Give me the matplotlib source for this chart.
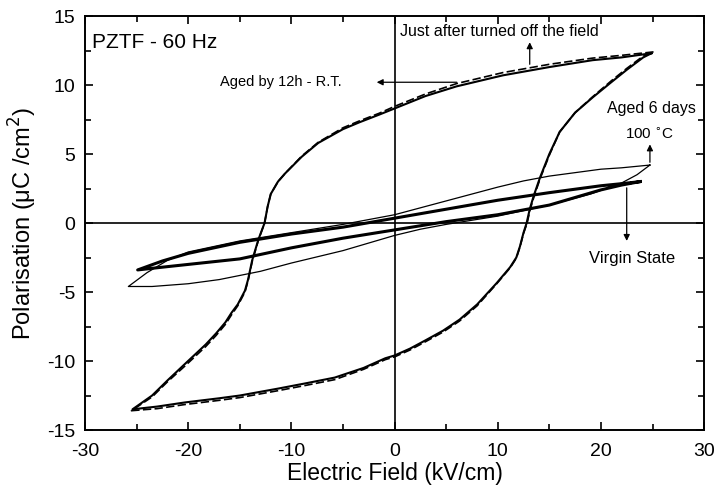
import matplotlib
matplotlib.use("Agg")
import matplotlib.pyplot as plt
from matplotlib.ticker import MultipleLocator

plt.rcParams['font.family'] = ['Liberation Sans', 'DejaVu Sans']
plt.rcParams['axes.unicode_minus'] = False

# aged by 12h - R.T. (solid), descending / ascending branches
aged_up_E = [24.9, 22, 19.2, 15, 10.5, 6, 3, 0, -1.5, -3.4, -5, -7.4, -9, -10.6, -11.3, -12.0,
             -12.3, -12.6, -13.2, -13.8, -14.2, -14.5, -15.2, -15.8, -16.4, -17.3, -18.3,
             -20.3, -22, -23.5, -25.4]
aged_up_P = [12.3, 12.0, 11.8, 11.3, 10.7, 9.9, 9.2, 8.3, 7.85, 7.3, 6.8, 5.8, 4.8, 3.6, 3.0, 2.1,
             1.2, 0.0, -1.2, -2.7, -4.1, -4.9, -5.9, -6.5, -7.2, -8.0, -8.8,
             -10.2, -11.4, -12.5, -13.5]
aged_lo_E = [-25.4, -23, -20.3, -17, -15, -11.3, -8.5, -5.8, -3, -0.9, 0, 1.5, 3, 4.7, 6.3, 8,
             9.9, 11.2, 11.8, 12.15, 12.5, 12.8, 13.1, 13.5, 14.1, 15, 16, 17.5, 19.2, 21,
             22.5, 24.1, 24.9]
aged_lo_P = [-13.5, -13.3, -13.0, -12.7, -12.5, -12.0, -11.6, -11.2, -10.5, -9.8, -9.6, -9.1, -8.5,
             -7.8, -7.0, -5.9, -4.35, -3.2, -2.5, -1.7, -0.7, 0.0, 1.0, 2.0, 3.3, 5.0, 6.6, 8.0,
             9.1, 10.2, 11.1, 12.0, 12.3]

# just after turned off the field (dashed)
off_up_E = [25.1, 22, 19.2, 15, 10.5, 6, 3, 0, -1.5, -3.4, -5, -7.4, -9, -10.6, -11.3, -12.0,
            -12.3, -12.6, -13.2, -13.8, -14.2, -14.5, -15.2, -15.8, -16.4, -17.3, -18.3,
            -20.3, -22, -23.5, -25.5]
off_up_P = [12.4, 12.15, 11.95, 11.5, 10.9, 10.1, 9.35, 8.45, 7.95, 7.4, 6.9, 5.85, 4.85, 3.6, 3.0,
            2.1, 1.2, 0.0, -1.25, -2.8, -4.2, -5.0, -6.0, -6.65, -7.35, -8.15, -8.95,
            -10.35, -11.5, -12.6, -13.6]
off_lo_E = [-25.5, -23, -20.3, -17, -15, -11.3, -8.5, -5.8, -3, -0.9, 0, 1.5, 3, 4.7, 6.3, 8,
            9.9, 11.2, 11.8, 12.15, 12.5, 12.85, 13.15, 13.55, 14.15, 15.05, 16, 17.5, 19.2,
            21, 22.5, 24.1, 25.1]
off_lo_P = [-13.6, -13.45, -13.15, -12.85, -12.65, -12.15, -11.75, -11.35, -10.6, -9.9, -9.7,
            -9.2, -8.6, -7.9, -7.1, -6.0, -4.4, -3.25, -2.55, -1.75, -0.75, 0.0, 1.0, 2.0, 3.3,
            5.0, 6.6, 8.0, 9.15, 10.3, 11.2, 12.1, 12.4]

# aged 6 days at 100 C (thin)
hot_up_E = [24.75, 22, 20, 17.5, 15, 12.5, 10, 7.5, 5, 2.5, 0, -2.5, -5, -10, -15, -20, -22,
            -24, -25.8]
hot_up_P = [4.2, 4.0, 3.9, 3.65, 3.4, 3.05, 2.6, 2.1, 1.6, 1.1, 0.6, 0.25, -0.1, -0.7, -1.3,
            -2.1, -2.7, -3.6, -4.6]
hot_lo_E = [-25.8, -23.5, -20, -17, -13, -10, -7.5, -5, -2.5, 0, 2.5, 5, 10, 15, 19, 22, 23.5,
            24.75]
hot_lo_P = [-4.6, -4.6, -4.4, -4.1, -3.5, -2.9, -2.45, -2.0, -1.45, -0.9, -0.45, -0.1, 0.5,
            1.3, 2.1, 2.9, 3.5, 4.2]

# virgin state (thick)
vir_up_E = [23.8, 22, 20, 15, 10, 5, 0, -5, -10, -15, -20, -22.5, -24.9]
vir_up_P = [3.0, 2.85, 2.7, 2.2, 1.65, 1.0, 0.35, -0.3, -0.8, -1.4, -2.2, -2.75, -3.4]
vir_lo_E = [-24.9, -22.5, -20, -15, -10, -5, 0, 5, 10, 15, 20, 22, 23.8]
vir_lo_P = [-3.4, -3.2, -3.0, -2.6, -1.8, -1.1, -0.5, 0.1, 0.6, 1.3, 2.4, 2.75, 3.0]

fig = plt.figure(figsize=(7.17, 4.91), dpi=100)
ax = fig.add_axes([0.1186, 0.1242, 0.8634, 0.8432])

ax.axhline(0, color='black', lw=1.2, zorder=1)
ax.axvline(0, color='black', lw=1.2, zorder=1)

ax.plot(aged_up_E + aged_lo_E, aged_up_P + aged_lo_P, color='black', lw=1.5)
ax.plot(off_up_E + off_lo_E, off_up_P + off_lo_P, color='black', lw=1.2, ls=(0, (5, 2)))
ax.plot(hot_up_E + hot_lo_E, hot_up_P + hot_lo_P, color='black', lw=0.9)
ax.plot(vir_up_E + vir_lo_E, vir_up_P + vir_lo_P, color='black', lw=2.2)

arrow = dict(arrowstyle='-|>', color='black', lw=0.9, mutation_scale=9)
ax.text(-29.3, 13.1, 'PZTF - 60 Hz', fontsize=15, va='center', ha='left')
ax.text(0.5, 13.9, 'Just after turned off the field', fontsize=11.5, va='center', ha='left')
ax.annotate('', xy=(13.1, 13.3), xytext=(13.1, 11.3), arrowprops=arrow)
ax.text(-16.9, 10.2, 'Aged by 12h - R.T.', fontsize=10.5, va='center', ha='left')
ax.annotate('', xy=(-2.0, 10.2), xytext=(6.3, 10.2), arrowprops=arrow)
ax.text(29.2, 8.3, 'Aged 6 days', fontsize=11.5, va='center', ha='right')
ax.text(22.3, 6.45, '100 $^{\\circ}$C', fontsize=11, va='center', ha='left')
ax.annotate('', xy=(24.75, 5.9), xytext=(24.75, 4.2), arrowprops=arrow)
ax.text(18.8, -2.55, 'Virgin State', fontsize=12, va='center', ha='left')
ax.annotate('', xy=(22.5, -1.5), xytext=(22.5, 2.75), arrowprops=arrow)

ax.set_xlim(-30, 30)
ax.set_ylim(-15, 15)
ax.xaxis.set_major_locator(MultipleLocator(10))
ax.xaxis.set_minor_locator(MultipleLocator(5))
ax.yaxis.set_major_locator(MultipleLocator(5))
ax.yaxis.set_minor_locator(MultipleLocator(2.5))
ax.tick_params(which='both', direction='in', top=True, right=True, width=1.2)
ax.tick_params(which='major', length=6, labelsize=14)
ax.tick_params(which='minor', length=4)
ax.tick_params(axis='x', pad=9)
ax.tick_params(axis='y', pad=7)
for s in ax.spines.values():
    s.set_linewidth(1.4)

ax.set_xlabel('Electric Field (kV/cm)', fontsize=16.5, labelpad=2)
ax.set_ylabel('Polarisation (\u03bcC /cm$^2$)', fontsize=17, labelpad=6)

fig.savefig('out.png', dpi=100)
